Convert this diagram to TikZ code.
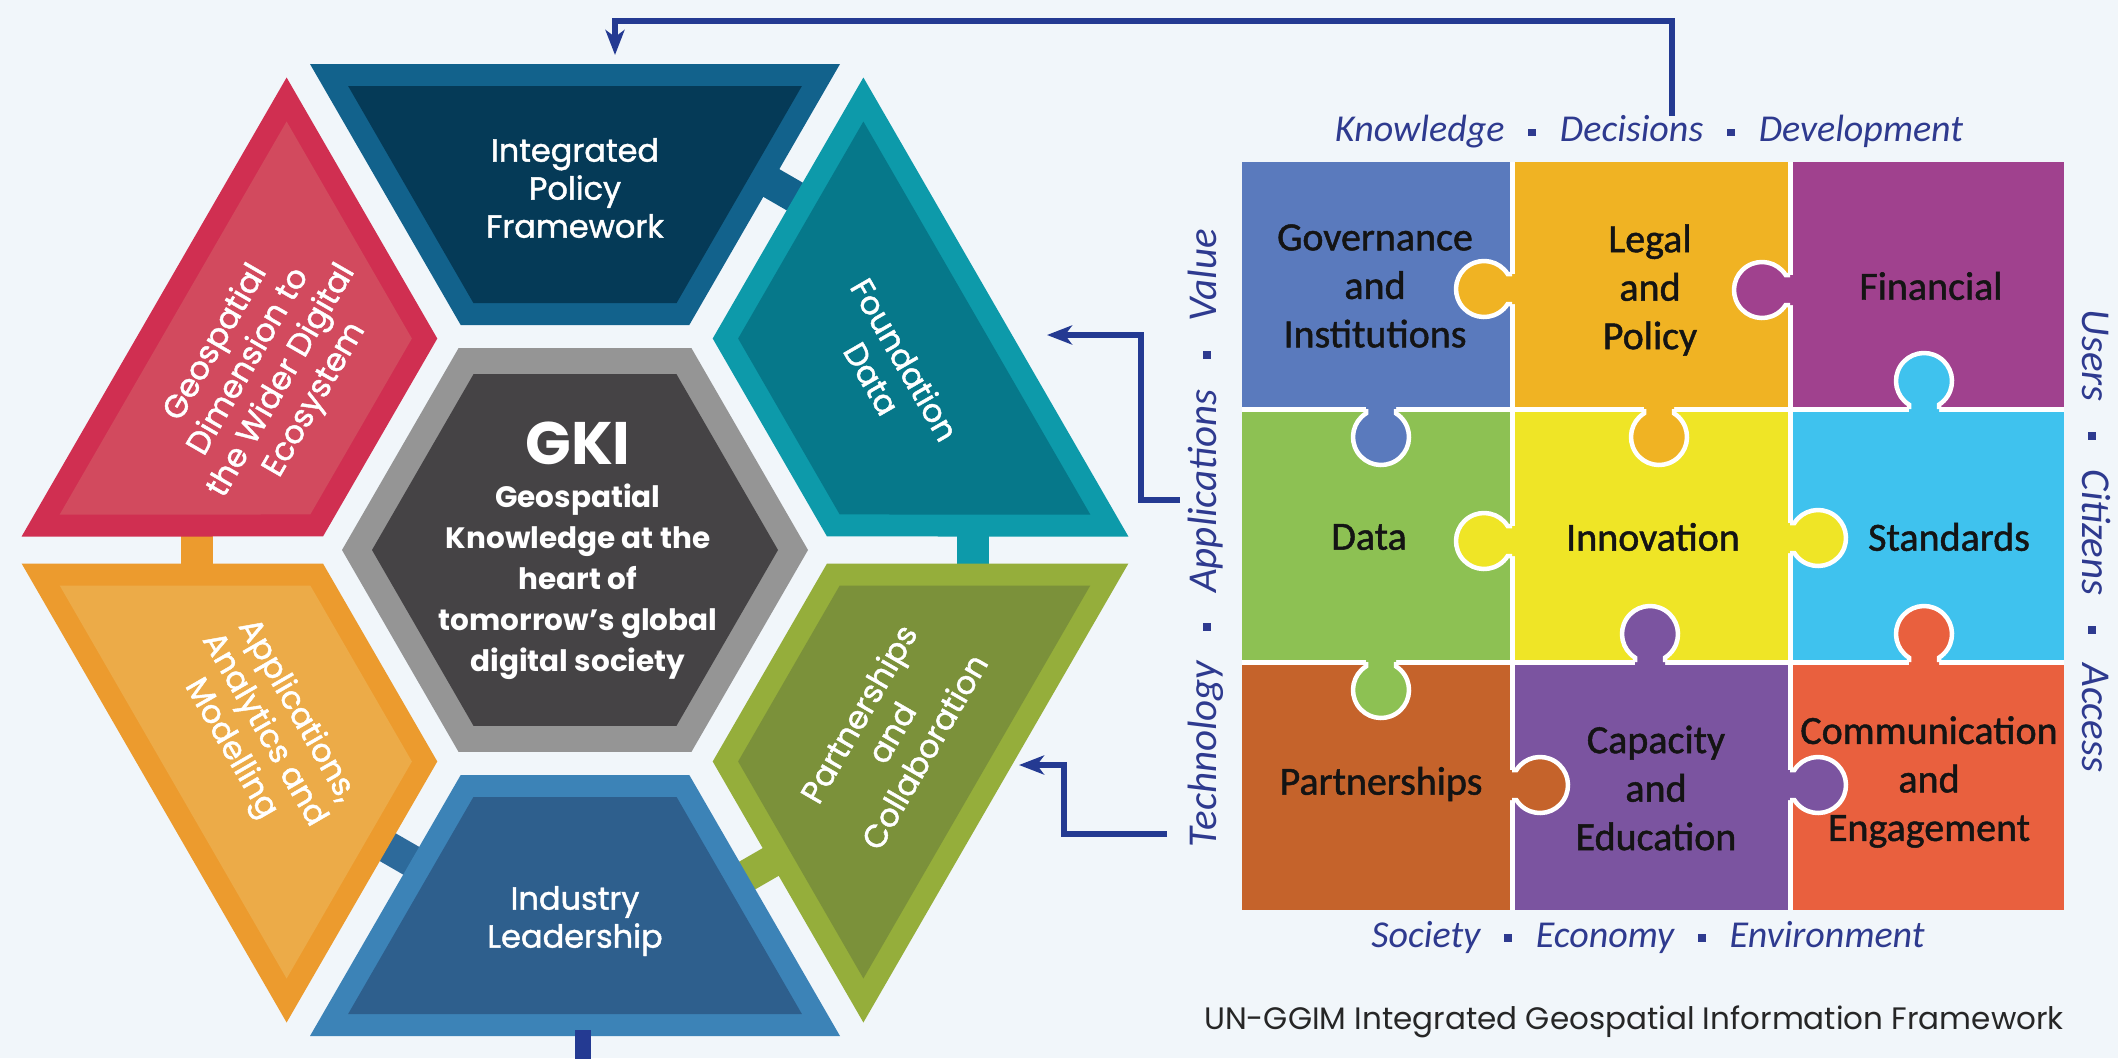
\documentclass[tikz,border=0pt]{standalone}
\usepackage{fontspec}
\setmainfont{Poppins}
\newfontfamily\popm{Poppins}[FakeBold=1.4]
\newfontfamily\carl{Carlito}[FakeBold=1.2]
\newfontfamily\carli{Carlito}
\usetikzlibrary{calc,arrows.meta}
\definecolor{bg}{HTML}{F1F6FA}
\definecolor{topO}{HTML}{12628C}
\definecolor{topI}{HTML}{053A57}
\definecolor{tealO}{HTML}{0D9AAA}
\definecolor{tealI}{HTML}{06788A}
\definecolor{grnO}{HTML}{95AE3B}
\definecolor{grnI}{HTML}{7B913A}
\definecolor{botO}{HTML}{3C83B7}
\definecolor{botI}{HTML}{2E5F8D}
\definecolor{orgO}{HTML}{EC9B2E}
\definecolor{orgI}{HTML}{ECAB48}
\definecolor{redO}{HTML}{D02F51}
\definecolor{redI}{HTML}{D24A5E}
\definecolor{hexO}{HTML}{959595}
\definecolor{hexI}{HTML}{454345}
\definecolor{barB}{HTML}{2D6A9B}
\definecolor{arrowblue}{HTML}{243A92}
\definecolor{lbl}{HTML}{2E3A8F}
\definecolor{cGov}{HTML}{5A7ABD}
\definecolor{cLeg}{HTML}{F0B323}
\definecolor{cFin}{HTML}{A0418E}
\definecolor{cDat}{HTML}{8DC153}
\definecolor{cInn}{HTML}{EFE526}
\definecolor{cStd}{HTML}{3FC2EE}
\definecolor{cPar}{HTML}{C5632B}
\definecolor{cCap}{HTML}{7B54A0}
\definecolor{cCom}{HTML}{E9603E}

% hexagon piece: axis angle, outer colour, inner colour
\newcommand{\hexpiece}[3]{%
  \fill[#2] ($(C)+(#1:225)+(#1+90:114.3)$) -- ($(C)+(#1:486)+(#1+90:265)$) -- ($(C)+(#1:486)+(#1-90:265)$) -- ($(C)+(#1:225)+(#1-90:114.3)$) -- cycle;
  \fill[#3] ($(C)+(#1:247)+(#1+90:101.6)$) -- ($(C)+(#1:464)+(#1+90:226.9)$) -- ($(C)+(#1:464)+(#1-90:226.9)$) -- ($(C)+(#1:247)+(#1-90:101.6)$) -- cycle;
}
% connecting bar across a spoke: angle, distance, colour
\newcommand{\hexbar}[3]{%
  \draw[line width=32pt,#3] ($(C)+(#1:#2)+(#1+90:32)$) -- ($(C)+(#1:#2)+(#1-90:32)$);
}
% puzzle tabs: boundary point x, y, colour
\newcommand{\ptabD}[3]{%
  \fill[#3] ({#1-15},{#2-5}) -- ({#1-15},{#2+4.36}) arc[start angle=237.6,end angle=-57.6,radius=28] -- ({#1+15},{#2-5}) -- cycle;
  \draw[white,line width=4.5pt] ({#1-15},#2) -- ({#1-15},{#2+4.36}) arc[start angle=237.6,end angle=-57.6,radius=28] -- ({#1+15},#2);
}
\newcommand{\ptabU}[3]{%
  \fill[#3] ({#1-15},{#2+5}) -- ({#1-15},{#2-4.36}) arc[start angle=122.4,end angle=417.6,radius=28] -- ({#1+15},{#2+5}) -- cycle;
  \draw[white,line width=4.5pt] ({#1-15},#2) -- ({#1-15},{#2-4.36}) arc[start angle=122.4,end angle=417.6,radius=28] -- ({#1+15},#2);
}
\newcommand{\ptabR}[3]{%
  \fill[#3] ({#1-5},{#2-15}) -- ({#1+4.36},{#2-15}) arc[start angle=-147.6,end angle=147.6,radius=28] -- ({#1-5},{#2+15}) -- cycle;
  \draw[white,line width=4.5pt] (#1,{#2-15}) -- ({#1+4.36},{#2-15}) arc[start angle=-147.6,end angle=147.6,radius=28] -- (#1,{#2+15});
}
\newcommand{\ptabL}[3]{%
  \fill[#3] ({#1+5},{#2-15}) -- ({#1-4.36},{#2-15}) arc[start angle=-32.4,end angle=-327.6,radius=28] -- ({#1+5},{#2+15}) -- cycle;
  \draw[white,line width=4.5pt] (#1,{#2-15}) -- ({#1-4.36},{#2-15}) arc[start angle=-32.4,end angle=-327.6,radius=28] -- (#1,{#2+15});
}
\newcommand{\dotsep}{\hspace{24pt}\rule[5.5pt]{7.5pt}{7.5pt}\hspace{24pt}}
\newcommand{\dotsepv}{\hspace{30pt}\rule[6pt]{8pt}{8pt}\hspace{30pt}}

\begin{document}
\begin{tikzpicture}[x=1pt,y=-1pt,
  plbl/.style={text=white,align=center,inner sep=0pt,font=\popm\fontsize{32}{38}\selectfont},
  cellt/.style={text=black!92,align=center,inner sep=0pt,font=\carl\fontsize{40}{48.5}\selectfont},
  sidelbl/.style={text=lbl,inner sep=0pt,font=\carli\itshape\fontsize{38}{38}\selectfont},
  arr/.style={draw=arrowblue,line width=6pt,-{Stealth[length=25pt,width=19pt,inset=7pt]}}]
\useasboundingbox (0,0) rectangle (2118,1058);
\fill[bg] (0,0) rectangle (2118,1058);
\coordinate (C) at (575,550);

% connecting bars (behind the pieces)
\hexbar{-60}{416}{topO}
\hexbar{0}{398}{tealO}
\hexbar{180}{378}{orgO}
\hexbar{120}{351}{barB}
\hexbar{60}{368}{grnO}

% six pieces
\hexpiece{-90}{topO}{topI}
\hexpiece{-30}{tealO}{tealI}
\hexpiece{30}{grnO}{grnI}
\hexpiece{90}{botO}{botI}
\hexpiece{150}{orgO}{orgI}
\hexpiece{210}{redO}{redI}

% centre hexagon
\fill[hexO] ($(C)+(0:233)$) \foreach \a in {60,120,...,300}{ -- ($(C)+(\a:233)$)} -- cycle;
\fill[hexI] ($(C)+(0:203)$) \foreach \a in {60,120,...,300}{ -- ($(C)+(\a:203)$)} -- cycle;

% labels of pieces
\node[plbl] (ipf) at ($(C)+(-90:362)$) {Integrated\\Policy\\Framework};
\node[plbl,rotate=-60] (fd) at ($(C)+(-30:362)$) {Foundation\\Data};
\node[plbl,rotate=60] (pc) at ($(C)+(30:365)$) {Partnerships\\and\\Collaboration};
\node[plbl] (il) at ($(C)+(90:371)$) {Industry\\Leadership};
\node[plbl,rotate=-60] (aam) at ($(C)+(150:360)$) {Applications,\\Analytics and\\Modelling};
\node[plbl,rotate=60] (gd) at ($(C)+(210:357)$) {Geospatial\\Dimension to\\the Wider Digital\\Ecosystem};
\node[text=white,inner sep=0pt,font=\fontsize{60}{60}\bfseries\selectfont] (gki) at (578,443) {GKI};
\node[text=white,align=center,inner sep=0pt,font=\fontsize{29.5}{41}\bfseries\selectfont] (gkit) at (578,582)
  {Geospatial\\Knowledge at the\\heart of\\tomorrow’s global\\digital society};

% puzzle cells
\fill[cGov] (1242,162) rectangle (1512,409);
\fill[cLeg] (1512,162) rectangle (1790,409);
\fill[cFin] (1790,162) rectangle (2064,409);
\fill[cDat] (1242,409) rectangle (1512,662);
\fill[cInn] (1512,409) rectangle (1790,662);
\fill[cStd] (1790,409) rectangle (2064,662);
\fill[cPar] (1242,662) rectangle (1512,910);
\fill[cCap] (1512,662) rectangle (1790,910);
\fill[cCom] (1790,662) rectangle (2064,910);
\draw[white,line width=5pt] (1512,162) -- (1512,910) (1790,162) -- (1790,910)
  (1242,409) -- (2064,409) (1242,662) -- (2064,662);

% puzzle tabs
\ptabD{1381}{409}{cGov}
\ptabL{1512}{289}{cLeg}
\ptabD{1659}{409}{cLeg}
\ptabL{1790}{290}{cFin}
\ptabU{1924}{409}{cStd}
\ptabL{1512}{541}{cInn}
\ptabR{1790}{538}{cInn}
\ptabD{1381}{662}{cDat}
\ptabU{1650}{662}{cCap}
\ptabR{1790}{785}{cCap}
\ptabU{1924}{662}{cCom}
\ptabR{1512}{785}{cPar}

% cell texts
\node[cellt] (gov) at (1375,286) {Governance\\and\\Institutions};
\node[cellt] (legal) at (1650,290) {Legal\\and\\Policy};
\node[cellt] (fin) at (1931,286) {Financial};
\node[cellt] (data) at (1369,537) {Data};
\node[cellt] (innov) at (1653,537) {Innovation};
\node[cellt] (std) at (1949,537) {Standards};
\node[cellt] (partn) at (1381,784) {Partnerships};
\node[cellt] (capac) at (1656,788) {Capacity\\and\\Education};
\node[cellt] (comm) at (1929,782) {Communication\\and\\Engagement};

% side labels
\node[sidelbl] (toplbl) at (1649,132) {Knowledge\dotsep Decisions\dotsep Development};
\node[sidelbl] (botlbl) at (1648,937) {Society\dotsep Economy\dotsep Environment};
\node[sidelbl,font=\carli\itshape\fontsize{41}{41}\selectfont,rotate=90] (leftlbl) at (1206,538) {Technology\dotsepv Applications\dotsepv Value};
\node[sidelbl,font=\carli\itshape\fontsize{41}{41}\selectfont,rotate=-90] (rightlbl) at (2096,541) {Users\dotsepv Citizens\dotsepv Access};

\node[text=black!85,inner sep=0pt,font=\fontsize{31}{31}\selectfont] (caption) at (1634,1022)
  {UN-GGIM Integrated Geospatial Information Framework};

% arrows
\coordinate (a1s) at (1672,116);
\coordinate (a1c) at (1672,21);
\coordinate (a1e) at (615,55);
\draw[arr] (a1s) -- (a1c) -| (a1e);
\coordinate (a2s) at (1180,500);
\coordinate (a2c) at (1141,500);
\coordinate (a2e) at (1047,335);
\draw[arr] (a2s) -- (a2c) |- (a2e);
\coordinate (a3s) at (1167,834);
\coordinate (a3c) at (1064,834);
\coordinate (a3e) at (1019,765);
\draw[arr] (a3s) -- (a3c) |- (a3e);
\coordinate (ilb) at (583,1030);
\coordinate (ilx) at (583,1060);
\draw[arrowblue,line width=16pt] (ilb) -- (ilx);
\end{tikzpicture}
\end{document}
